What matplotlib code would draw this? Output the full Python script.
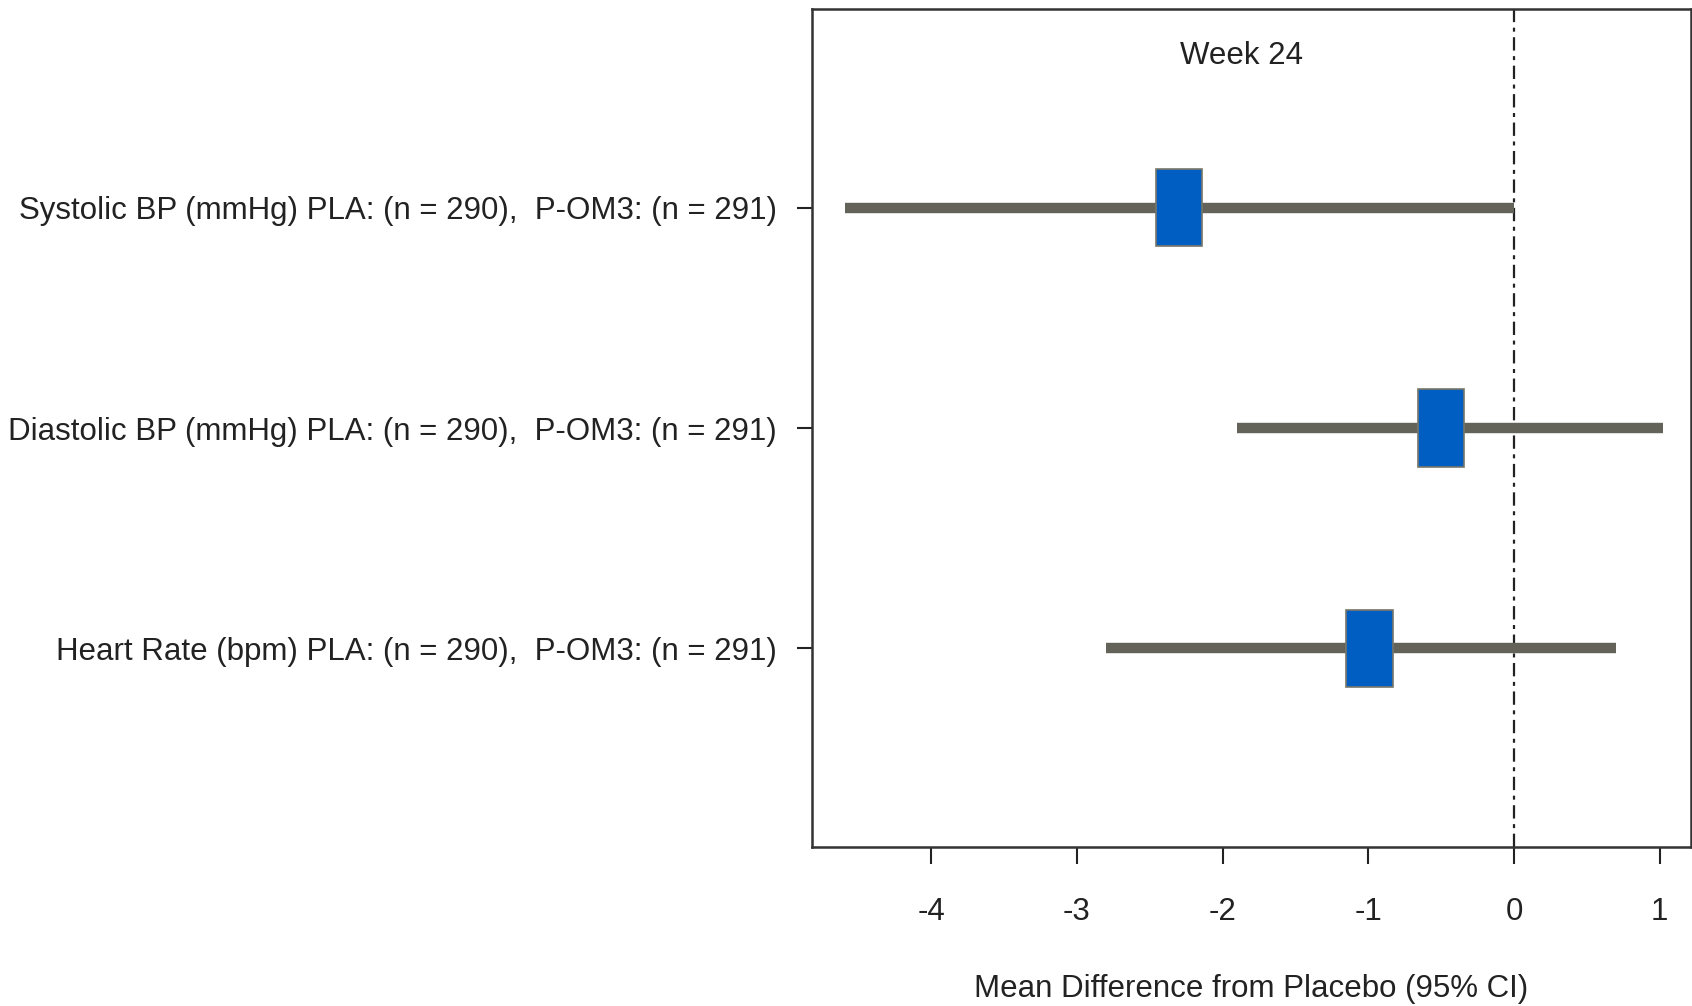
import matplotlib
matplotlib.use('Agg')
import matplotlib.pyplot as plt
from matplotlib.patches import Rectangle
import numpy as np

plt.rcParams['font.family'] = ['Liberation Sans', 'DejaVu Sans']

# desfechos, de cima para baixo
labels = ['Systolic BP (mmHg) PLA: (n = 290),  P-OM3: (n = 291)',
          'Diastolic BP (mmHg) PLA: (n = 290),  P-OM3: (n = 291)',
          'Heart Rate (bpm) PLA: (n = 290),  P-OM3: (n = 291)']
mean_diff = [-2.30, -0.50, -0.99]
ci_low = [-4.59, -1.90, -2.80]
ci_high = [0.00, 1.02, 0.70]
xticks = [-4, -3, -2, -1, 0, 1]

ypos = np.arange(len(labels), 0, -1)

fig = plt.figure(figsize=(16.92, 10.06), dpi=100)
ax = fig.add_axes([0.4797, 0.1583, 0.5197, 0.8325])

# linha vertical no zero
ax.axvline(0, color='#222222', lw=1.6, ls=(0, (6, 2.5, 1.8, 2.5)), zorder=1)

# intervalos de confianca
ax.hlines(ypos, ci_low, ci_high, color='#63635a', lw=7.5, zorder=2)

# caixas das medias
bw = 0.32
bh = 0.35
for m, y in zip(mean_diff, ypos):
    ax.add_patch(Rectangle((m - bw / 2, y - bh / 2), bw, bh,
                           facecolor='#005ec2', edgecolor='#77776a', lw=1.2, zorder=3))

ax.text(-1.87, 3.69, 'Week 24', ha='center', va='center', fontsize=22.5, color='#222222')

ax.set_xlim(-4.82, 1.215)
ax.set_ylim(0.1, 3.9)
ax.set_xticks(xticks)
ax.set_xticklabels([str(t) for t in xticks])
ax.set_yticks(ypos)
ax.set_yticklabels(labels)
ax.tick_params(axis='x', length=12, width=1.5, pad=24, labelsize=22.5, colors='#222222')
ax.tick_params(axis='y', length=11, width=1.5, pad=14, labelsize=22.5, colors='#222222')
ax.set_xlabel('Mean Difference from Placebo (95% CI)', fontsize=22.5, labelpad=34, color='#222222')

for s in ax.spines.values():
    s.set_linewidth(1.8)
    s.set_color('#333333')

fig.savefig('out.png', dpi=100)
